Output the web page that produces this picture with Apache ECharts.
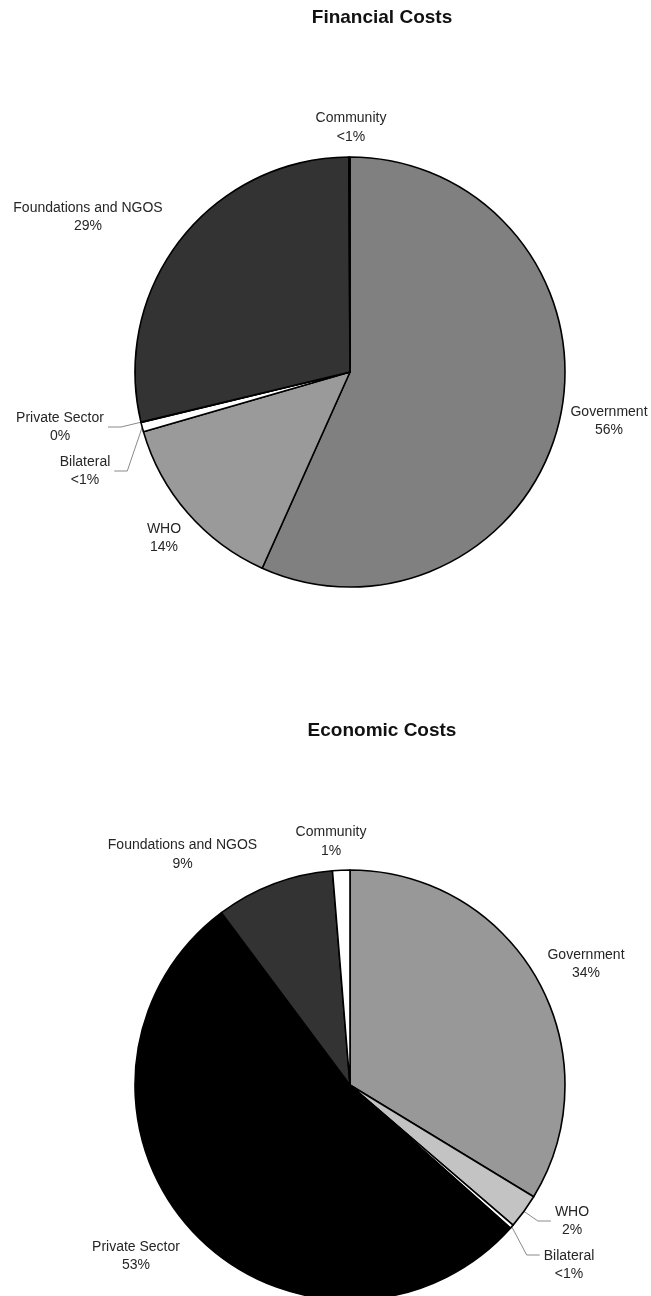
<!DOCTYPE html>
<html>
<head>
<meta charset="utf-8">
<script src="https://cdn.jsdelivr.net/npm/echarts@6/dist/echarts.min.js"></script>
<style>
html,body{margin:0;padding:0;background:#ffffff;}
#c{width:651px;height:1296px;}
</style>
</head>
<body>
<div id="c"></div>
<script>
// ---------------- data ----------------
const categories = ['Government', 'WHO', 'Bilateral', 'Private Sector', 'Foundations and NGOS', 'Community'];
const financialValues = [56.6, 13.8, 0.7, 0.05, 28.6, 0.08];
const financialPctLabels = ['56%', '14%', '<1%', '0%', '29%', '<1%'];
const economicValues = [33.7, 2.6, 0.3, 53.2, 8.9, 1.3];
const economicPctLabels = ['34%', '2%', '<1%', '53%', '9%', '1%'];
const chartTitles = ['Financial Costs', 'Economic Costs'];

// ---------------- layout & style ----------------
const FONT = '"Liberation Sans", Arial, Helvetica, sans-serif';
const RADIUS = 215;
const centers = [[350, 372], [350, 1085]];
const titleY = [18, 731];
const titleX = 382;
const financialColors = ['#808080', '#9a9a9a', '#ffffff', '#ffffff', '#333333', '#ffffff'];
const economicColors = ['#989898', '#c3c3c3', '#ffffff', '#000000', '#333333', '#ffffff'];
// label centre offsets from the pie centre (px)
const financialLabelOffsets = [[259, 49], [-186, 166], [-265, 99], [-290, 55], [-262, -155], [1, -244.5]];
const economicLabelOffsets = [[236, -121], [222, 136], [219, 180], [-214, 171], [-167.5, -230.5], [-19, -243.3]];
const financialLeaders = [false, false, true, true, false, false];
const economicLeaders = [false, true, true, false, false, false];
const financialLeaderDy = [0, 0, 0, 0, 0, 0];
const economicLeaderDy = [0, 0, -10, 0, 0, 0];

function midAngles(values) {
  const total = values.reduce((a, b) => a + b, 0);
  let acc = 0;
  return values.map(v => {
    const m = (acc + v / 2) / total * 360;
    acc += v;
    return m;
  });
}

function makeLayout(center, offsets, leaders, leaderDy, values) {
  const mids = midAngles(values);
  return function (p) {
    const i = p.dataIndex;
    const x = center[0] + offsets[i][0];
    const y = center[1] + offsets[i][1];
    const res = { x: x, y: y, align: 'center', verticalAlign: 'middle' };
    if (leaders[i]) {
      const a = mids[i] * Math.PI / 180;
      const sx = center[0] + RADIUS * Math.sin(a);
      const sy = center[1] - RADIUS * Math.cos(a);
      const halfW = (p.labelRect ? p.labelRect.width : 50) / 2;
      const dir = x < center[0] ? -1 : 1;
      const ex = x - dir * (halfW + 4);
      const ey = y + leaderDy[i];
      const mx = ex - dir * 13;
      res.labelLinePoints = [[sx, sy], [mx, ey], [ex, ey]];
    }
    return res;
  };
}

function makeSeries(idx, values, pct, colors, offsets, leaders, leaderDy) {
  return {
    type: 'pie',
    center: centers[idx],
    radius: RADIUS,
    startAngle: 90,
    clockwise: true,
    avoidLabelOverlap: false,
    silent: true,
    animation: false,
    label: {
      show: true,
      position: 'outside',
      fontFamily: FONT,
      fontSize: 14,
      lineHeight: 18.5,
      color: '#262626',
      formatter: function (p) { return categories[p.dataIndex] + '\n' + pct[p.dataIndex]; }
    },
    labelLine: {
      show: true,
      length: 10,
      length2: 10,
      lineStyle: { color: '#8a8a8a', width: 1 }
    },
    itemStyle: { borderColor: '#000000', borderWidth: 1.6 },
    labelLayout: makeLayout(centers[idx], offsets, leaders, leaderDy, values),
    data: categories.map((name, i) => ({
      name: name,
      value: values[i],
      itemStyle: { color: colors[i] },
      labelLine: { show: leaders[i] }
    }))
  };
}

const chart = echarts.init(document.getElementById('c'), null, { renderer: 'canvas' });
chart.setOption({
  backgroundColor: '#ffffff',
  animation: false,
  graphic: chartTitles.map((t, i) => ({
    type: 'text',
    x: titleX,
    y: titleY[i],
    style: {
      text: t,
      font: 'bold 19px ' + FONT,
      fill: '#111111',
      align: 'center',
      verticalAlign: 'middle',
      textAlign: 'center',
      textVerticalAlign: 'middle'
    }
  })),
  series: [
    makeSeries(0, financialValues, financialPctLabels, financialColors, financialLabelOffsets, financialLeaders, financialLeaderDy),
    makeSeries(1, economicValues, economicPctLabels, economicColors, economicLabelOffsets, economicLeaders, economicLeaderDy)
  ]
});
</script>
</body>
</html>
